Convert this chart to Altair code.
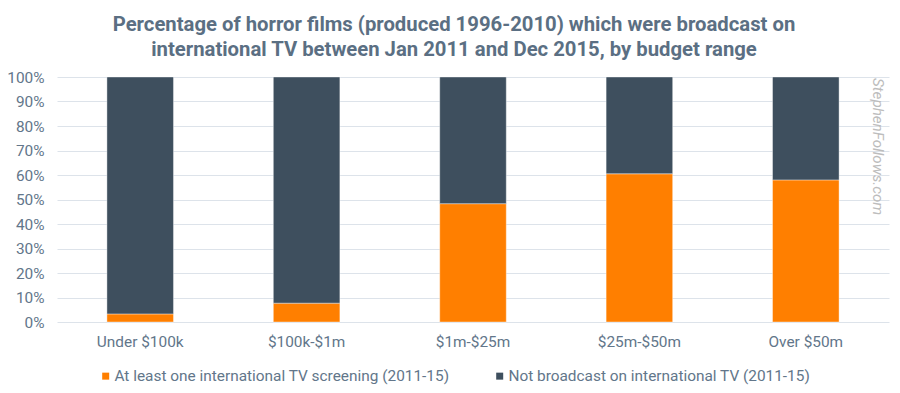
import altair as alt
import pandas as pd

categories = ["Under $100k", "$100k-$1m", "$1m-$25m", "$25m-$50m", "Over $50m"]
broadcast = [3.3, 7.7, 48.3, 60.5, 58.0]
not_broadcast = [round(100 - v, 1) for v in broadcast]
series = ["At least one international TV screening (2011-15)",
          "Not broadcast on international TV (2011-15)"]
colors = ["#FF7F00", "#3E4F5E"]
y_ticks = [0, 0.1, 0.2, 0.3, 0.4, 0.5, 0.6, 0.7, 0.8, 0.9, 1.0]

rows = []
for c, b, n in zip(categories, broadcast, not_broadcast):
    rows.append({"cat": c, "series": series[0], "value": b / 100, "ord": 0})
    rows.append({"cat": c, "series": series[1], "value": n / 100, "ord": 1})
df = pd.DataFrame(rows)

text_color = "#62768a"
font = "Roboto"
fs = 15.4

bars = alt.Chart(df).mark_bar(stroke="white", strokeWidth=0.4).encode(
    x=alt.X("cat:N", sort=categories, title=None,
            scale=alt.Scale(paddingInner=0.6, paddingOuter=0.3),
            axis=alt.Axis(labelAngle=0, labelFont=font, labelFontSize=fs,
                          labelColor=text_color, ticks=False, domain=False,
                          labelPadding=12, grid=False)),
    y=alt.Y("value:Q", stack="zero", title=None,
            scale=alt.Scale(domain=[0, 1], nice=False),
            axis=alt.Axis(values=y_ticks, format=".0%", labelFont=font,
                          labelFontSize=fs, labelColor=text_color, ticks=False,
                          domain=False, labelPadding=13, gridColor="#dde3ea",
                          gridWidth=1)),
    color=alt.Color("series:N", sort=series,
                    scale=alt.Scale(domain=series, range=colors),
                    legend=alt.Legend(title=None, orient="none", direction="horizontal",
                                      legendX=41, legendY=291, padding=0,
                                      symbolType="square", symbolSize=49,
                                      symbolStrokeWidth=0, symbolOffset=0,
                                      labelFont=font, labelFontSize=fs,
                                      labelColor=text_color, labelOffset=1,
                                      columnPadding=42, labelLimit=500)),
    order=alt.Order("ord:Q", sort="ascending"),
)

watermark = alt.Chart(pd.DataFrame({"t": ["StephenFollows.com"]})).mark_text(
    angle=90, align="left", baseline="middle", font=font, fontStyle="italic",
    fontSize=15.2, color="#bdbdbd"
).encode(text="t:N", x=alt.value(821), y=alt.value(1))

chart = alt.layer(bars, watermark).properties(
    width=832, height=245,
    autosize=alt.AutoSizeParams(type="none"),
    padding={"left": 49, "top": 69, "right": 3, "bottom": 63},
    title=alt.TitleParams(
        text=["Percentage of horror films (produced 1996-2010) which were broadcast on",
              "international TV between Jan 2011 and Dec 2015, by budget range"],
        anchor="middle", frame="group", dx=-19, offset=10,
        font=font, fontSize=20.3, fontWeight="bold", color="#5b6f83", lineHeight=25),
).configure_view(stroke=None)

chart.save("out.html", embed_options={"renderer": "svg", "actions": False})
